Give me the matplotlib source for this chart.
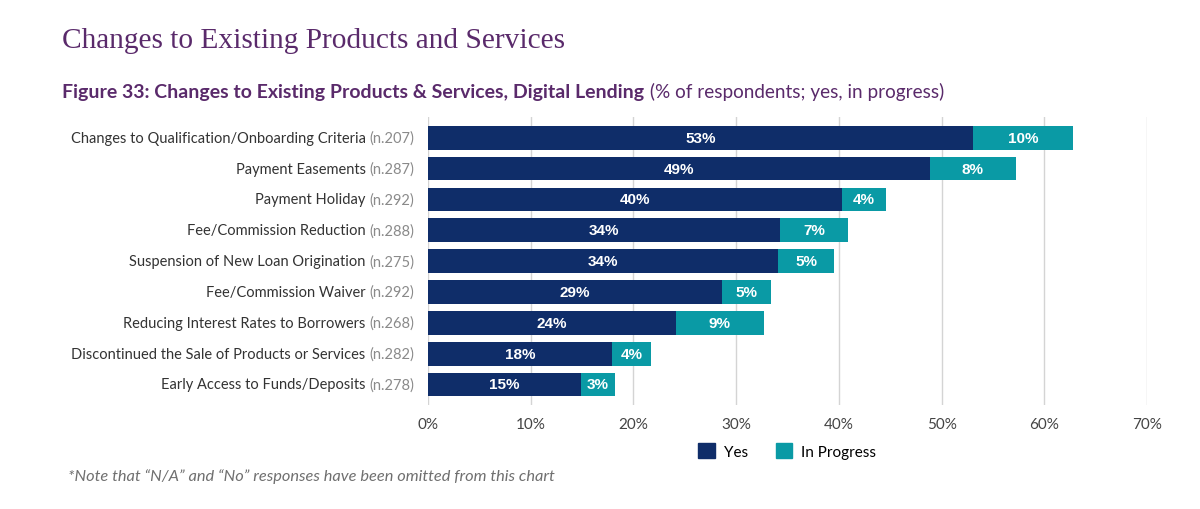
import numpy as np
import matplotlib
matplotlib.use('Agg')
import matplotlib.pyplot as plt
from matplotlib.patches import Patch

# Data
categories = [
    'Changes to Qualification/Onboarding Criteria',
    'Payment Easements',
    'Payment Holiday',
    'Fee/Commission Reduction',
    'Suspension of New Loan Origination',
    'Fee/Commission Waiver',
    'Reducing Interest Rates to Borrowers',
    'Discontinued the Sale of Products or Services',
    'Early Access to Funds/Deposits',
]
sample_sizes = [207, 287, 292, 288, 275, 292, 268, 282, 278]
yes_vals = [53.1, 48.9, 40.3, 34.3, 34.1, 28.6, 24.1, 17.9, 14.9]
progress_vals = [9.7, 8.3, 4.3, 6.6, 5.4, 4.8, 8.6, 3.8, 3.3]
xticks = [0, 10, 20, 30, 40, 50, 60, 70]

NAVY = '#0f2d69'
TEAL = '#0a9aa5'
PURPLE = '#5a2a6b'

plt.rcParams['font.family'] = ['Lato', 'DejaVu Sans']

fig = plt.figure(figsize=(12, 5.1), dpi=100)
ax = fig.add_axes([0.3567, 0.203, 0.5992, 0.566])

y = np.arange(len(categories))
ax.barh(y, yes_vals, height=0.77, color=NAVY, label='Yes', zorder=3)
ax.barh(y, progress_vals, left=yes_vals, height=0.77, color=TEAL,
        label='In Progress', zorder=3)

# Value labels inside the bars
for i in range(len(categories)):
    ax.text(yes_vals[i] / 2, i, f'{round(yes_vals[i])}%', ha='center',
            va='center', color='white', fontweight='bold', fontsize=11,
            family='Liberation Sans', zorder=4)
    ax.text(yes_vals[i] + progress_vals[i] / 2, i,
            f'{round(progress_vals[i])}%', ha='center', va='center',
            color='white', fontweight='bold', fontsize=11,
            family='Liberation Sans', zorder=4)

ax.set_xlim(0, 70)
ax.set_ylim(len(categories) - 1 + 0.68, -0.68)
ax.set_xticks(xticks)
ax.set_xticklabels([f'{t}%' for t in xticks], fontsize=11, color='#444444')
ax.set_yticks([])
ax.xaxis.grid(True, color='#d4d4d4', linewidth=1, zorder=0)
ax.tick_params(axis='x', length=0, pad=8)
for s in ax.spines.values():
    s.set_visible(False)

# Category labels: dark main text plus lighter sample size
for i in range(len(categories)):
    n_txt = ax.annotate(f'(n.{sample_sizes[i]})', xy=(0, i),
                        xycoords=('axes fraction', 'data'),
                        xytext=(-10, 0), textcoords='offset points',
                        ha='right', va='center', fontsize=10.5,
                        color='#8a8a8a')
    ax.annotate(categories[i] + ' ', xy=(0, 0.5), xycoords=n_txt,
                ha='right', va='center', fontsize=10.5, color='#333333')

# Titles
fig.text(0.052, 0.905, 'Changes to Existing Products and Services',
         family='Liberation Serif', fontsize=21.2, color=PURPLE)
sub = fig.text(0.052, 0.808,
               'Figure 33: Changes to Existing Products & Services, Digital Lending',
               fontsize=14.0, fontweight='bold', color=PURPLE)
rest = fig.text(0, 0, ' (% of respondents; yes, in progress)', fontsize=13.6,
                color=PURPLE)
fig.canvas.draw()
bb = sub.get_window_extent()
rest.set_transform(matplotlib.transforms.IdentityTransform())
rest.set_position((bb.x1, bb.y0 + 3))

# Legend
handles = [Patch(color=NAVY, label='Yes'), Patch(color=TEAL, label='In Progress')]
fig.legend(handles=handles, loc='center', bbox_to_anchor=(0.656, 0.114),
           ncol=2, frameon=False, fontsize=11, handlelength=1.1,
           handleheight=1.1, columnspacing=1.8, handletextpad=0.6)

# Footnote
fig.text(0.057, 0.057,
         '*Note that \u201cN/A\u201d and \u201cNo\u201d responses have been omitted from this chart',
         fontsize=11.8, style='italic', color='#6f6f6f')

fig.savefig('out.png', dpi=100)
